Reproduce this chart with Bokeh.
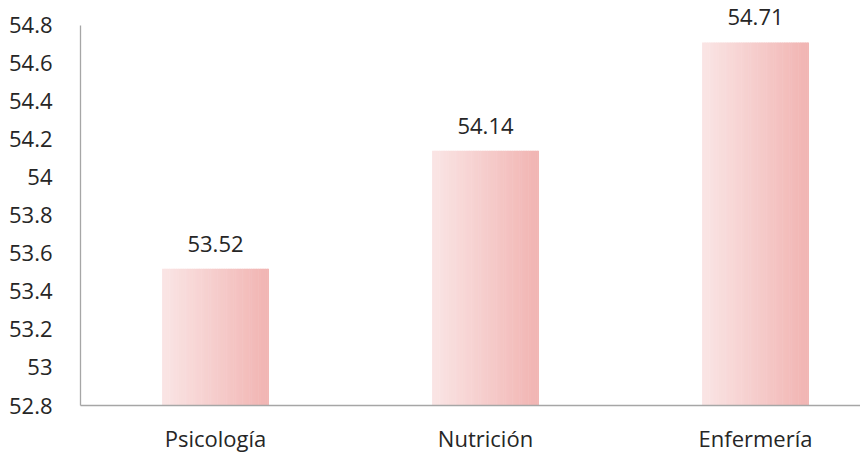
from bokeh.plotting import figure
from bokeh.models import (Range1d, FixedTicker, CustomJSTickFormatter, ColumnDataSource,
                          LabelSet)
from bokeh.core.properties import value
from bokeh.embed import file_html
from bokeh.resources import INLINE

# Data
categories = ["Psicología", "Nutrición", "Enfermería"]
scores = [53.52, 54.14, 54.71]
y_ticks = [52.8, 53.0, 53.2, 53.4, 53.6, 53.8, 54.0, 54.2, 54.4, 54.6, 54.8]
y_min, y_max = 52.8, 54.8

FONT = "Open Sans"
FONT_SIZE = "22px"
BAR_W = 0.396
N_SLICES = 60
C_LEFT = (250, 229, 229)
C_RIGHT = (241, 180, 178)

# the frame reaches a little above the last tick so the tallest value label fits
p = figure(width=860, height=455, output_backend="svg", toolbar_location=None,
           x_range=Range1d(0, 780 / 270), y_range=Range1d(y_min, y_min + 407 / 191),
           min_border_left=80, min_border_right=0, min_border_top=0,
           min_border_bottom=48)
p.outline_line_color = None
p.background_fill_color = "white"
p.border_fill_color = "white"
p.xgrid.grid_line_color = None
p.ygrid.grid_line_color = None

# Bars with a horizontal light-to-dark gradient, drawn as thin vertical slices
lefts, rights, tops, bottoms, colors = [], [], [], [], []
for i, v in enumerate(scores):
    cx = i + 0.5
    x0 = cx - BAR_W / 2
    x1 = cx + BAR_W / 2
    dw = BAR_W / N_SLICES
    for k in range(N_SLICES):
        t = k / (N_SLICES - 1)
        rgb = [round(a + (b - a) * t) for a, b in zip(C_LEFT, C_RIGHT)]
        lefts.append(x0 + k * dw)
        rights.append(min(x0 + (k + 1.3) * dw, x1))
        tops.append(v)
        bottoms.append(y_min)
        colors.append("#%02x%02x%02x" % tuple(rgb))
src = ColumnDataSource(dict(left=lefts, right=rights, top=tops, bottom=bottoms, color=colors))
p.quad(left="left", right="right", top="top", bottom="bottom", fill_color="color",
       line_color=None, source=src)

# Value labels above the bars
lab = ColumnDataSource(dict(x=[i + 0.5 for i in range(len(scores))], y=scores,
                            t=["%.2f" % s for s in scores]))
p.add_layout(LabelSet(x="x", y="y", text="t", source=lab, text_align="center",
                      text_baseline="alphabetic", y_offset=17, text_font=value(FONT),
                      text_font_size=value(FONT_SIZE), text_color="#262626"))

# Axes
p.xaxis.ticker = FixedTicker(ticks=[i + 0.5 for i in range(len(categories))])
p.xaxis.major_label_overrides = {i + 0.5: c for i, c in enumerate(categories)}
p.yaxis.ticker = FixedTicker(ticks=y_ticks)
p.yaxis.formatter = CustomJSTickFormatter(code="return String(Math.round(tick*10)/10);")
p.yaxis.bounds = (y_min, y_max)

for ax in (p.xaxis[0], p.yaxis[0]):
    ax.axis_line_color = "#a6a6a6"
    ax.axis_line_width = 1.3
    ax.major_tick_line_color = None
    ax.minor_tick_line_color = None
    ax.major_label_text_font = FONT
    ax.major_label_text_font_size = FONT_SIZE
    ax.major_label_text_color = "#262626"
p.yaxis.major_label_standoff = 22
p.xaxis.major_label_standoff = 11

open("out.html", "w").write(file_html(p, INLINE))
